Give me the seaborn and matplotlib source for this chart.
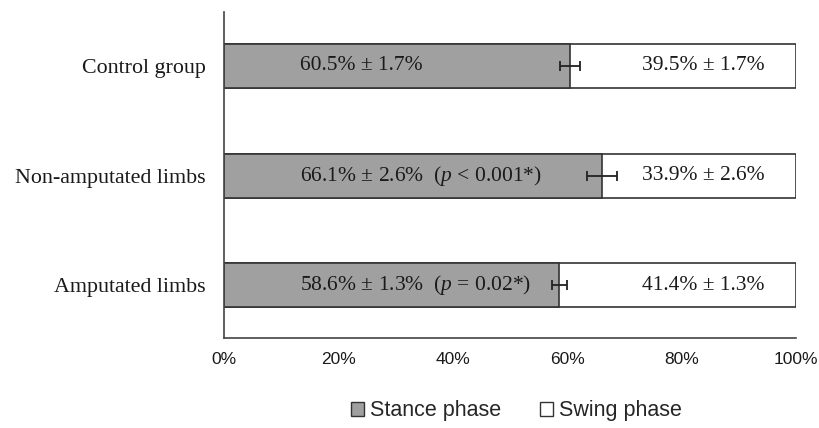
import matplotlib
matplotlib.use("Agg")
import matplotlib.pyplot as plt
import matplotlib.ticker as mtick
from matplotlib.patches import Patch
import pandas as pd
import seaborn as sns

groups = ["Control group", "Non-amputated limbs", "Amputated limbs"]
stance = [60.5, 66.1, 58.6]
stance_sd = [1.7, 2.6, 1.3]
swing = [39.5, 33.9, 41.4]
swing_sd = [1.7, 2.6, 1.3]
p_notes = ["", "  ($p$ < 0.001*)", "  ($p$ = 0.02*)"]

sns.set_style("white")
plt.rcParams["mathtext.fontset"] = "custom"
plt.rcParams["mathtext.it"] = "Liberation Serif:italic"
plt.rcParams["mathtext.rm"] = "Liberation Serif"

df = pd.DataFrame({"group": groups, "stance": stance, "total": [s + w for s, w in zip(stance, swing)]})

fig = plt.figure(figsize=(8.2, 4.28), dpi=100)
ax = fig.add_axes([0.273, 0.21, 0.698, 0.762])

edge = "#333333"
sns.barplot(data=df, y="group", x="total", color="white", edgecolor=edge,
            linewidth=1.2, width=0.4, orient="h", ax=ax, saturation=1)
sns.barplot(data=df, y="group", x="stance", color="#a0a0a0", edgecolor=edge,
            linewidth=1.2, width=0.4, orient="h", ax=ax, saturation=1)
ax.errorbar(stance, range(len(groups)), xerr=stance_sd, fmt="none",
            ecolor="#222222", elinewidth=1.3, capsize=3.5, capthick=1.3)

serif = "Liberation Serif"
for i in range(len(groups)):
    ax.text(13.3, i, f"{stance[i]}% ± {stance_sd[i]}%" + p_notes[i],
            va="center", ha="left", fontsize=15.5, family=serif, color="#1a1a1a")
    ax.text(73.1, i, f"{swing[i]}% ± {swing_sd[i]}%",
            va="center", ha="left", fontsize=15.5, family=serif, color="#1a1a1a")

ax.set_xlim(0, 100)
ax.set_ylim(2.48, -0.49)
ax.xaxis.set_major_locator(mtick.MultipleLocator(20))
ax.xaxis.set_major_formatter(mtick.PercentFormatter(decimals=0))
ax.set_xlabel("")
ax.set_ylabel("")
for side in ["top", "right"]:
    ax.spines[side].set_visible(False)
for side in ["left", "bottom"]:
    ax.spines[side].set_color("#444444")
    ax.spines[side].set_linewidth(1.2)
ax.tick_params(axis="x", direction="in", length=4, width=1, color="#444444",
               pad=10, labelsize=12.5, labelcolor="#1a1a1a")
ax.tick_params(axis="y", length=0, pad=13, labelsize=15.8, labelcolor="#1a1a1a")
for lab in ax.get_xticklabels():
    lab.set_family("Liberation Sans")
for lab in ax.get_yticklabels():
    lab.set_family(serif)

handles = [Patch(facecolor="#a0a0a0", edgecolor=edge, label="Stance phase"),
           Patch(facecolor="white", edgecolor=edge, label="Swing phase")]
fig.legend(handles=handles, loc="center", bbox_to_anchor=(0.63, 0.04), ncol=2,
           frameon=False, prop={"family": "Liberation Sans", "size": 15.5},
           handlelength=0.6, handleheight=0.6, handletextpad=0.3, columnspacing=1.8)

fig.savefig("out.png", dpi=100)
